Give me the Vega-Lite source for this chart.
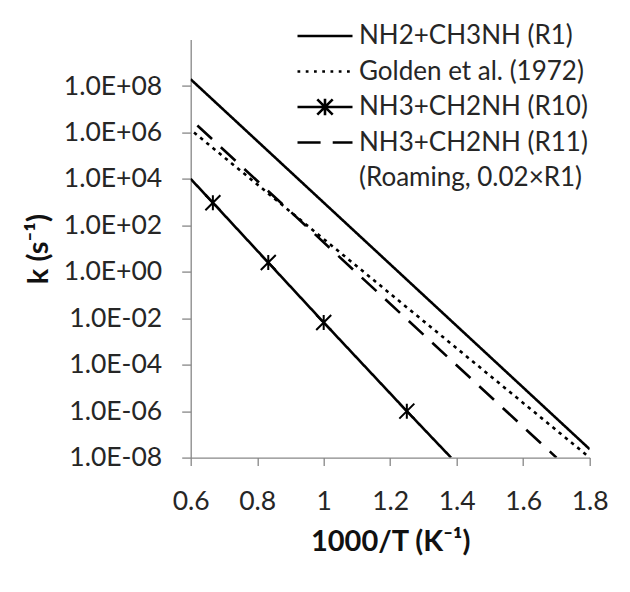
{
  "$schema": "https://vega.github.io/schema/vega-lite/v6.json",
  "width": 399,
  "height": 418,
  "autosize": {"type": "none"},
  "padding": {"left": 190.7, "top": 39.6, "right": 40.3, "bottom": 134.4},
  "background": "white",
  "config": {
    "view": {"stroke": null},
    "font": "Lato",
    "axis": {
      "grid": false,
      "domainColor": "#878787",
      "domainWidth": 1.3,
      "tickColor": "#878787",
      "tickWidth": 1.3,
      "labelFont": "Lato",
      "labelFontSize": 26.5,
      "labelColor": "#262626",
      "titleFont": "Lato",
      "titleFontSize": 29,
      "titleFontWeight": "bold",
      "titleColor": "#111111"
    }
  },
  "datasets": {
    "series": [
      {"series": "NH2+CH3NH (R1)", "x": 0.6, "k": 1.95e8},
      {"series": "NH2+CH3NH (R1)", "x": 1.8, "k": 2.3e-8},
      {"series": "Golden et al. (1972)", "x": 0.61, "k": 1.0e6},
      {"series": "Golden et al. (1972)", "x": 1.8, "k": 1.0e-8},
      {"series": "NH3+CH2NH (R10)", "x": 0.6, "k": 1.0e4},
      {"series": "NH3+CH2NH (R10)", "x": 0.6667, "k": 9.5e2},
      {"series": "NH3+CH2NH (R10)", "x": 0.8333, "k": 2.5},
      {"series": "NH3+CH2NH (R10)", "x": 1.0, "k": 6.6e-3},
      {"series": "NH3+CH2NH (R10)", "x": 1.25, "k": 1.0e-6},
      {"series": "NH3+CH2NH (R10)", "x": 1.383, "k": 1.0e-8},
      {"series": "NH3+CH2NH (R11)", "x": 0.62, "k": 2.0e6},
      {"series": "NH3+CH2NH (R11)", "x": 1.7, "k": 1.0e-8}
    ]
  },
  "data": {"name": "series"},
  "encoding": {
    "x": {
      "field": "x", "type": "quantitative",
      "scale": {"domain": [0.6, 1.8], "nice": false, "zero": false},
      "axis": {
        "title": "1000/T (K⁻¹)",
        "values": [0.6, 0.8, 1.0, 1.2, 1.4, 1.6, 1.8],
        "format": ".1~f",
        "tickSize": 8,
        "labelPadding": 23,
        "titlePadding": 12,
        "labelFlush": false
      }
    },
    "y": {
      "field": "k", "type": "quantitative",
      "scale": {"type": "log", "domain": [1e-8, 1e10], "nice": false},
      "axis": {
        "title": "k (s⁻¹)",
        "values": [1e-8, 1e-6, 1e-4, 1e-2, 1, 1e2, 1e4, 1e6, 1e8],
        "labelExpr": "'1.0E' + (round(log(datum.value)/LN10) >= 0 ? '+' : '-') + pad(toString(abs(round(log(datum.value)/LN10))), 2, '0', 'left')",
        "tickSize": 9,
        "labelPadding": 20,
        "titlePadding": 10,
        "labelFlush": false
      }
    }
  },
  "layer": [
    {
      "mark": {"type": "line", "color": "black", "strokeWidth": 2.6, "clip": true},
      "encoding": {
        "detail": {"field": "series", "type": "nominal"},
        "strokeDash": {
          "field": "series", "type": "nominal",
          "scale": {
            "domain": ["NH2+CH3NH (R1)", "Golden et al. (1972)", "NH3+CH2NH (R10)", "NH3+CH2NH (R11)"],
            "range": [[1, 0], [3.5, 4.5], [1, 0], [20, 12]]
          },
          "legend": null
        }
      }
    },
    {
      "transform": [{"filter": "datum.series == 'NH3+CH2NH (R10)' && datum.x > 0.61 && datum.k > 1.5e-8"}],
      "mark": {"type": "point", "shape": "M-1,-1L1,1M-1,1L1,-1M0,-1V1", "size": 225, "filled": false, "stroke": "black", "strokeWidth": 2, "opacity": 1}
    },
    {
      "transform": [{"filter": "datum.k < 0"}],
      "mark": {"type": "point", "filled": false, "stroke": "black", "strokeWidth": 3, "opacity": 1},
      "encoding": {
        "shape": {
          "field": "series", "type": "nominal",
          "scale": {
            "domain": ["NH2+CH3NH (R1)", "Golden et al. (1972)", "NH3+CH2NH (R10)", "NH3+CH2NH (R11)", "(Roaming, 0.02×R1)"],
            "range": [
              "M-1,0H1",
              "M-1,0H-0.9M-0.7,0H-0.6M-0.4,0H-0.3M-0.1,0H0M0.2,0H0.3M0.5,0H0.6M0.8,0H0.9",
              "M-1,0H1M-0.28,-0.28L0.28,0.28M-0.28,0.28L0.28,-0.28M0,-0.3V0.3",
              "M-1,0H-0.16M0.28,0H1",
              "M0,0"
            ]
          },
          "legend": {
            "title": null,
            "orient": "none",
            "legendX": 105.3,
            "legendY": -18.6,
            "padding": 0,
            "clipHeight": 30,
            "symbolSize": 3025,
            "symbolStrokeWidth": 2.6,
            "symbolStrokeColor": "black",
            "symbolFillColor": "transparent",
            "labelFont": "Lato",
            "labelFontSize": 26,
            "labelColor": "#262626",
            "labelOffset": 5,
            "labelLimit": 400,
            "rowPadding": 5.5
          }
        }
      }
    }
  ]
}
